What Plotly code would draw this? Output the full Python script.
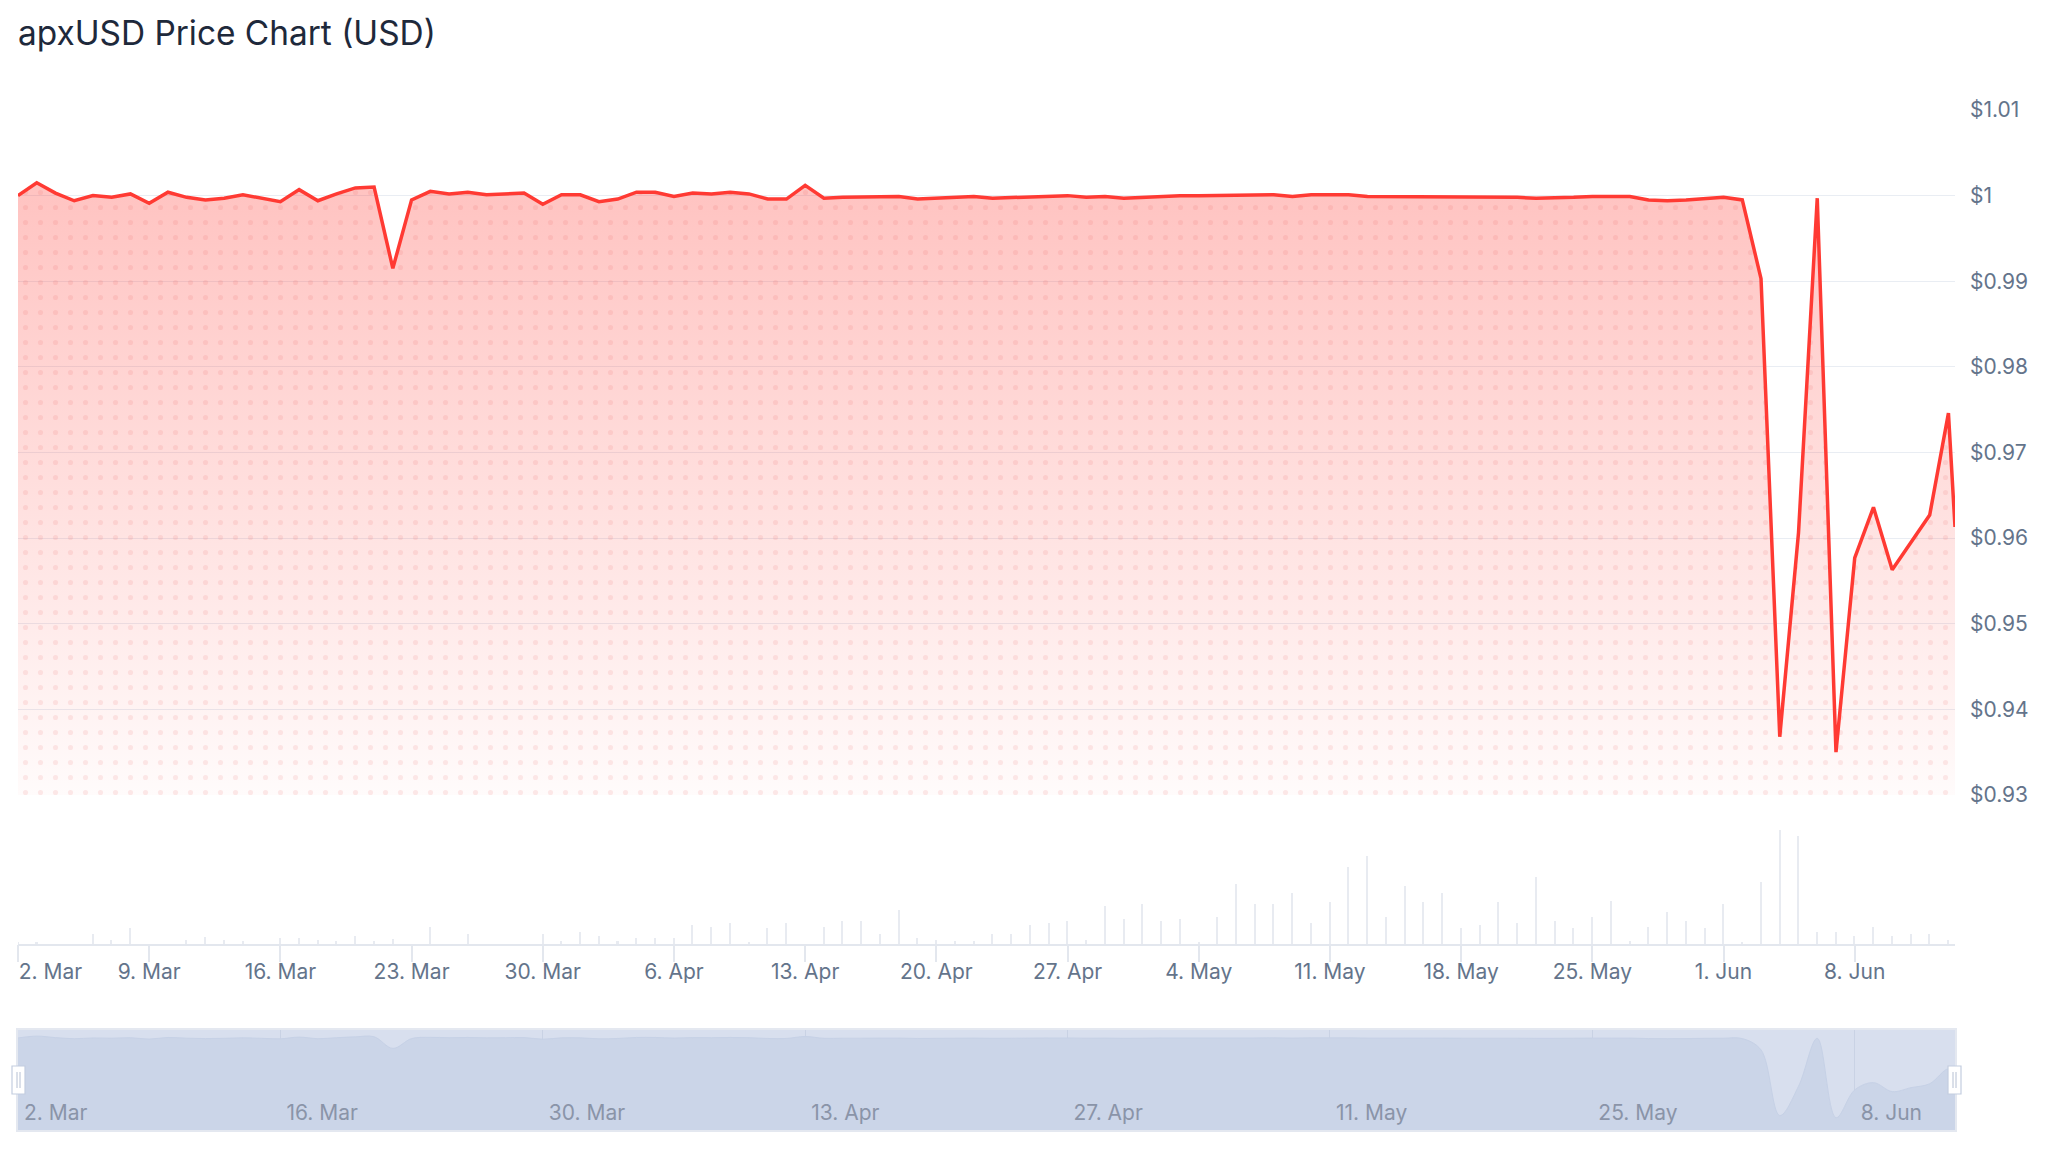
import plotly.graph_objects as go
import pandas as pd

# ---------------- data ----------------
start_date = "2026-03-02"
last_time = "2026-06-13 08:24"

price_daily = [
    1.0000, 1.0015, 1.0003, 0.9994, 1.0000, 0.9998, 1.0002, 0.9991, 1.0004, 0.9998,
    0.9995, 0.9997, 1.0001, 0.9997, 0.9993, 1.0007, 0.9994, 1.0002, 1.0009, 1.0010,
    0.9915, 0.9995, 1.0005, 1.0002, 1.0004, 1.0001, 1.0002, 1.0003, 0.9990, 1.0001,
    1.0001, 0.9993, 0.9996, 1.0004, 1.0004, 0.9999, 1.0003,
    1.0002, 1.0004, 1.0002, 0.9996, 0.9996, 1.0012, 0.9997, 0.9998, 0.9998, 0.9999,
    0.9999, 0.9996, 0.9997, 0.9998, 0.9999, 0.9997, 0.9998, 0.9999, 1.0000, 1.0000,
    0.9998, 0.9999, 0.9997, 0.9998, 1.0000, 1.0000, 1.0000, 1.0000, 1.0000, 1.0000,
    1.0001, 0.9999, 1.0001, 1.0001, 1.0001, 0.9999, 0.9999,
    0.9999, 0.9999, 0.9999, 0.9998, 0.9998, 0.9998, 0.9998, 0.9997, 0.9997, 0.9998,
    0.9999, 0.9999, 0.9999, 0.9995, 0.9994, 0.9995, 0.9997, 0.9998, 0.9995, 0.9903,
    0.9368, 0.9606, 0.9997, 0.9350, 0.9577, 0.9636, 0.9563, 0.9595, 0.9627, 0.9746,
]
price_last = 0.9613

volume_daily = [
    7, 7, 0, 0, 30, 13, 47, 0, 0, 13,
    20, 13, 10, 0, 19, 19, 13, 8, 25, 8,
    15, 0, 52, 0, 30, 0, 0, 0, 30, 9,
    36, 25, 10, 19, 19, 19, 58, 52, 63, 7,
    48, 63, 0, 52, 69, 69, 30, 102, 19, 13,
    8, 8, 30, 30, 57, 63, 69, 13, 113, 75,
    119, 69, 75, 7, 80, 180, 119, 119, 152, 63,
    125, 230, 263, 80, 175, 125, 152, 47, 57, 125,
    63, 202, 69, 47, 80, 130, 8, 52, 97, 69,
    47, 119, 7, 185, 342, 325, 36, 36, 25, 52,
    25, 30, 30, 13,
]

ytick_vals = [0.93, 0.94, 0.95, 0.96, 0.97, 0.98, 0.99, 1.00, 1.01]
ytick_text = ["$0.93", "$0.94", "$0.95", "$0.96", "$0.97", "$0.98", "$0.99", "$1", "$1.01"]

# ---------------- derived ----------------
dates = list(pd.date_range(start_date, periods=len(price_daily), freq="D"))
price_x = dates + [pd.Timestamp(last_time)]
price_y = price_daily + [price_last]
vol_dates = list(pd.date_range(start_date, periods=len(volume_daily), freq="D"))

x_range = [pd.Timestamp(start_date), pd.Timestamp(last_time)]
week_ticks = list(pd.date_range(start_date, "2026-06-08", freq="7D"))
nav_ticks = list(pd.date_range(start_date, "2026-06-08", freq="14D"))


def fmt(d):
    return f"{d.day}. {d.strftime('%b')}"


week_text = [""] + [fmt(d) for d in week_ticks[1:]]
nav_text = [fmt(d) for d in nav_ticks]

# ---------------- layout geometry (pixels) ----------------
W, H = 2048, 1158
L, R = 18, 1955


def ydom(top_px, bottom_px):
    return [1 - bottom_px / H, 1 - top_px / H]


def px_x(p):
    return (p - L) / (R - L)


def px_y(p):
    return 1 - p / H


FONT = "Inter"
LABEL_COLOR = "#64748b"
GRID = "#e9edf3"

fig = go.Figure()

# price area: gradient fill
fig.add_trace(go.Scatter(
    x=price_x, y=price_y, mode="none", fill="tozeroy",
    fillgradient=dict(type="vertical",
                      colorscale=[[0, "rgba(255,58,51,0.02)"], [1, "rgba(255,58,51,0.30)"]],
                      start=0.93, stop=1.0),
    hoverinfo="skip", showlegend=False, xaxis="x", yaxis="y",
))
# dotted pattern overlay
fig.add_trace(go.Scatter(
    x=price_x, y=price_y, mode="none", fill="tozeroy",
    fillcolor="rgba(0,0,0,0)",
    fillpattern=dict(shape=".", size=15, solidity=0.09, fgcolor="#e84040",
                     fgopacity=0.10, bgcolor="rgba(0,0,0,0)", fillmode="overlay"),
    hoverinfo="skip", showlegend=False, xaxis="x", yaxis="y",
))
# price line
fig.add_trace(go.Scatter(
    x=price_x, y=price_y, mode="lines",
    line=dict(color="#ff3a33", width=3.5),
    showlegend=False, xaxis="x", yaxis="y",
))

# volume bars
fig.add_trace(go.Bar(
    x=vol_dates, y=volume_daily, marker=dict(color="#e8ebf1", line=dict(width=0)),
    width=7.0e6, showlegend=False, xaxis="x2", yaxis="y2",
))
# dummy trace for overlay axis carrying the first label
fig.add_trace(go.Scatter(x=[], y=[], xaxis="x4", yaxis="y2", showlegend=False))

# navigator series
fig.add_trace(go.Scatter(
    x=price_x, y=price_y, mode="lines", fill="tozeroy",
    line=dict(color="#c6d1e6", width=1, shape="spline", smoothing=1.0),
    fillcolor="#cbd5e8", showlegend=False, hoverinfo="skip",
    xaxis="x3", yaxis="y3",
))

tickfont = dict(family=FONT, size=21, color=LABEL_COLOR)

fig.update_layout(
    width=W, height=H,
    margin=dict(l=L, r=W - R, t=0, b=0, autoexpand=False),
    paper_bgcolor="white", plot_bgcolor="rgba(0,0,0,0)",
    font=dict(family=FONT, color=LABEL_COLOR),
    title=dict(text="apxUSD Price Chart (USD)", font=dict(family=FONT, size=33.4, color="#1e293b"),
               x=L / W, xref="container", xanchor="left",
               y=1 - 33 / H, yref="container", yanchor="middle", automargin=False),
    bargap=0,
    hovermode=False,
    xaxis=dict(domain=[0, 1], range=x_range, type="date", anchor="y", automargin=False,
               showticklabels=False, showgrid=False, zeroline=False, showline=False, ticks=""),
    yaxis=dict(domain=ydom(110, 795), range=[0.93, 1.01], side="right", anchor="x",
               automargin=False,
               tickvals=ytick_vals, ticktext=ytick_text, tickfont=tickfont,
               showgrid=True, gridcolor=GRID, gridwidth=1, zeroline=False,
               showline=False, ticks="", ticklabelstandoff=14),
    xaxis2=dict(domain=[0, 1], range=x_range, type="date", anchor="y2", automargin=False,
                tickvals=week_ticks, ticktext=week_text, tickfont=tickfont,
                ticks="outside", ticklen=16, tickcolor="#e3e7ee", tickwidth=1.5,
                ticklabelstandoff=-8,
                showline=True, linecolor="#e3e7ee", linewidth=2,
                showgrid=False, zeroline=False),
    xaxis4=dict(range=x_range, type="date", overlaying="x2", anchor="y2", automargin=False,
                tickvals=[week_ticks[0]], ticktext=[fmt(week_ticks[0])], tickfont=tickfont,
                ticklabelposition="outside right", ticklabelstandoff=9,
                ticks="outside", ticklen=16, tickcolor="#e3e7ee", tickwidth=1.5,
                showline=False, showgrid=False, zeroline=False),
    yaxis2=dict(domain=ydom(820, 944), range=[0, 372], anchor="x2", visible=False,
                automargin=False),
    xaxis3=dict(domain=[0, 1], range=x_range, type="date", anchor="y3", automargin=False,
                tickvals=nav_ticks, ticktext=nav_text,
                tickfont=dict(family=FONT, size=21, color="#8a94a8"),
                ticklabelposition="inside right", ticklabelshift=6, ticks="",
                showgrid=True, gridcolor="#c9d2e4", gridwidth=1,
                showline=False, zeroline=False),
    yaxis3=dict(domain=ydom(1030, 1130), range=[0.925, 1.0065], anchor="x3",
                visible=False, showgrid=False, automargin=False),
)

shapes = [
    # navigator background band
    dict(type="rect", xref="x3 domain", yref="y3 domain", x0=0, x1=1, y0=0, y1=1,
         fillcolor="#d8dfee", line=dict(width=0), layer="below"),
    # navigator frame
    dict(type="rect", xref="paper", yref="paper", x0=px_x(17), x1=px_x(1956),
         y0=px_y(1131), y1=px_y(1029), fillcolor="rgba(0,0,0,0)",
         line=dict(color="#e4e8f0", width=2), layer="above"),
]
for hx in (12, 1948):
    shapes.append(dict(type="rect", xref="paper", yref="paper",
                       x0=px_x(hx), x1=px_x(hx + 13), y0=px_y(1094), y1=px_y(1066),
                       fillcolor="#ffffff", line=dict(color="#c3cddf", width=1.2), layer="above"))
    for lx in (hx + 5, hx + 8):
        shapes.append(dict(type="line", xref="paper", yref="paper",
                           x0=px_x(lx), x1=px_x(lx), y0=px_y(1088), y1=px_y(1072),
                           line=dict(color="#b6c0d3", width=1), layer="above"))
fig.update_layout(shapes=shapes)

fig.write_html("out.html",
               config={"displayModeBar": False},
               post_script="document.body.style.margin='0';document.body.style.overflow='hidden';")
